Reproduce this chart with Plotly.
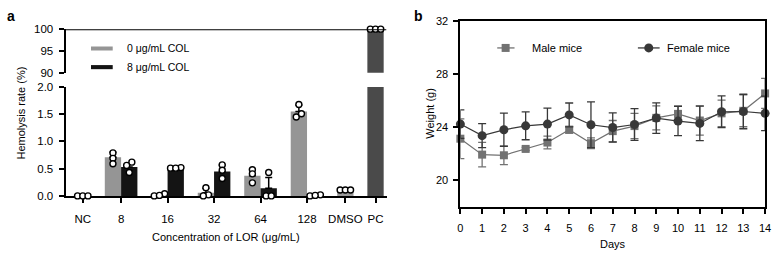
import plotly.graph_objects as go

W, H = 780, 255
FONT = "Liberation Sans, Arial, sans-serif"

# ---------------- Panel a data ----------------
dose_labels = ["8", "16", "32", "64", "128"]
col0_mean = [0.71, 0.02, 0.06, 0.37, 1.55]
col0_sd = [0.09, 0.02, 0.08, 0.12, 0.12]
col0_pts = [[0.79, 0.69, 0.59], [0.0, 0.04, 0.01], [0.02, 0.15, 0.0],
            [0.48, 0.405, 0.24], [1.68, 1.45, 1.51]]
col8_mean = [0.53, 0.51, 0.45, 0.14, 0.01]
col8_sd = [0.08, 0.01, 0.12, 0.20, 0.01]
col8_pts = [[0.62, 0.56, 0.43], [0.51, 0.52, 0.51], [0.57, 0.47, 0.32],
            [0.43, 0.0, 0.0], [0.0, 0.02, 0.01]]
ctrl_labels = ["NC", "DMSO", "PC"]
ctrl_mean = [0.0, 0.105, 100.0]
ctrl_pts = [[0.0, 0.0, 0.0], [0.11, 0.11, 0.11], [100.0, 100.0, 100.0]]
legend_a = ["0 μg/mL COL", "8 μg/mL COL"]

# ---------------- Panel b data ----------------
days = list(range(15))
male_mean = [23.13, 21.93, 21.88, 22.36, 22.84, 23.8, 22.79, 23.7, 24.08,
             24.7, 25.0, 24.5, 25.04, 25.23, 26.54]
male_sd = [1.5, 0.93, 0.7, 0.12, 0.48, 0.25, 0.4, 0.8, 0.95, 0.9, 0.6,
           1.1, 1.0, 1.2, 1.13]
female_mean = [24.23, 23.36, 23.8, 24.1, 24.23, 24.92, 24.18, 23.97, 24.2,
               24.68, 24.46, 24.28, 25.16, 25.18, 25.04]
female_sd = [1.07, 0.9, 1.25, 1.05, 1.2, 0.9, 1.72, 1.1, 1.2, 1.15, 1.1,
             1.3, 1.2, 1.3, 1.3]

# ---------------- colours ----------------
C_GRAY = "#959595"
C_BLACK = "#141414"
C_PC = "#4a4a4a"
C_DMSO = "#9a9a9a"
C_MALE = "#727272"
C_FEMALE = "#383838"


def fx(p):
    return p / W


def fy(p):
    return 1 - p / H


# category centres in bar-width units
order = ["NC"] + dose_labels + ["DMSO", "PC"]
nbars = [1, 2, 2, 2, 2, 2, 1, 1]
gap = 0.85
centers = []
left = 0.0
for n in nbars:
    centers.append(left + n / 2)
    left += n + gap
c0 = centers[0]
centers = [c - c0 for c in centers]
cmap = dict(zip(order, centers))

# pixel geometry for panel a
AX_L, AX_R = 63.3, 388.0
Y0_PX, Y2_PX = 199.3, 85.0
Y90_PX, Y100_PX = 70.0, 24.3
ppu_low = (Y0_PX - Y2_PX) / 2.0
ppu_up = (Y90_PX - Y100_PX) / 10.0


def jitter(vals, ppu, thr=4.2, step=0.32):
    idx = sorted(range(len(vals)), key=lambda i: vals[i])
    clusters = []
    for i in idx:
        if clusters and abs(vals[i] - vals[clusters[-1][-1]]) * ppu < thr:
            clusters[-1].append(i)
        else:
            clusters.append([i])
    offs = [0.0] * len(vals)
    for cl in clusters:
        n = len(cl)
        for k, i in enumerate(cl):
            offs[i] = (k - (n - 1) / 2) * step
    return offs


fig = go.Figure()

err_style = dict(type="data", symmetric=False, color="black", thickness=1.5, width=3.5)

x0 = [cmap[d] - 0.5 for d in dose_labels]
x8 = [cmap[d] + 0.5 for d in dose_labels]
fig.add_trace(go.Bar(x=x0, y=col0_mean, width=1.0, marker=dict(color=C_GRAY, line=dict(width=0)),
                     error_y=dict(array=col0_sd, arrayminus=[0] * 5, **err_style),
                     xaxis="x", yaxis="y", showlegend=False))
fig.add_trace(go.Bar(x=x8, y=col8_mean, width=1.0, marker=dict(color=C_BLACK, line=dict(width=0)),
                     error_y=dict(array=col8_sd, arrayminus=[0] * 5, **err_style),
                     xaxis="x", yaxis="y", showlegend=False))
ctrl_x = [cmap[c] for c in ctrl_labels]
ctrl_cols = ["rgba(0,0,0,0)", C_DMSO, C_PC]
for ya in ["y", "y2"]:
    fig.add_trace(go.Bar(x=ctrl_x, y=ctrl_mean, width=1.0,
                         marker=dict(color=ctrl_cols, line=dict(width=0)),
                         xaxis="x", yaxis=ya, showlegend=False))

px_low, py_low, px_up, py_up = [], [], [], []
for d, pts in zip(dose_labels, col0_pts):
    for o, v in zip(jitter(pts, ppu_low), pts):
        px_low.append(cmap[d] - 0.5 + o)
        py_low.append(v)
for d, pts in zip(dose_labels, col8_pts):
    for o, v in zip(jitter(pts, ppu_low), pts):
        px_low.append(cmap[d] + 0.5 + o)
        py_low.append(v)
for c, pts in zip(ctrl_labels, ctrl_pts):
    if max(pts) > 2:
        for o, v in zip(jitter(pts, ppu_up), pts):
            px_up.append(cmap[c] + o)
            py_up.append(v)
    else:
        for o, v in zip(jitter(pts, ppu_low), pts):
            px_low.append(cmap[c] + o)
            py_low.append(v)

pt_marker = dict(symbol="circle", size=6, color="white", line=dict(color="black", width=1.4))
fig.add_trace(go.Scatter(x=px_low, y=py_low, mode="markers", marker=pt_marker,
                         cliponaxis=False, xaxis="x", yaxis="y", showlegend=False))
fig.add_trace(go.Scatter(x=px_up, y=py_up, mode="markers", marker=pt_marker,
                         cliponaxis=False, xaxis="x", yaxis="y2", showlegend=False))

# ---------------- Panel b traces ----------------
fig.add_trace(go.Scatter(x=days, y=male_mean, mode="lines+markers", name="Male mice",
                         line=dict(color=C_MALE, width=1.2),
                         marker=dict(symbol="square", size=8, color=C_MALE),
                         error_y=dict(type="data", array=male_sd, color=C_MALE, thickness=1.3, width=4),
                         cliponaxis=False, xaxis="x3", yaxis="y3", showlegend=False))
fig.add_trace(go.Scatter(x=days, y=female_mean, mode="lines+markers", name="Female mice",
                         line=dict(color=C_FEMALE, width=1.2),
                         marker=dict(symbol="circle", size=9, color=C_FEMALE),
                         error_y=dict(type="data", array=female_sd, color=C_FEMALE, thickness=1.3, width=4),
                         cliponaxis=False, xaxis="x3", yaxis="y3", showlegend=False))

fig.add_trace(go.Scatter(x=[508.5], y=[44], mode="markers",
                         marker=dict(symbol="square", size=8, color=C_MALE),
                         xaxis="x4", yaxis="y4", showlegend=False, hoverinfo="skip"))
fig.add_trace(go.Scatter(x=[653.3], y=[44], mode="markers",
                         marker=dict(symbol="circle", size=9, color=C_FEMALE),
                         xaxis="x4", yaxis="y4", showlegend=False, hoverinfo="skip"))

# ---------------- axes ----------------
tickfont = dict(family=FONT, size=11.5, color="black")
axis_common = dict(showline=True, linecolor="black", linewidth=2, ticks="outside",
                   ticklen=5, tickwidth=2, tickcolor="black", showgrid=False,
                   zeroline=False, tickfont=tickfont, ticklabelstandoff=3)
tf_b = dict(family=FONT, size=11, color="black")

xr = [(AX_L - 80.7) / 16.5, (AX_R - 80.7) / 16.5]
fig.update_layout(
    xaxis=dict(domain=[fx(AX_L), fx(AX_R)], range=xr, anchor="y",
               tickmode="array", tickvals=[cmap[c] for c in order], ticktext=order,
               layer="below traces", **{**axis_common, "ticklabelstandoff": 6}),
    yaxis=dict(domain=[fy(Y0_PX), fy(Y2_PX)], range=[0, 2], anchor="x",
               tickmode="array", tickvals=[0, 0.5, 1.0, 1.5, 2.0], tickformat=".1f",
               **axis_common),
    yaxis2=dict(domain=[fy(Y90_PX), fy(Y100_PX)], range=[90, 100], anchor="x",
                tickmode="array", tickvals=[90, 95, 100], **axis_common),
    xaxis3=dict(domain=[fx(462.7), fx(771.0)], range=[0, 14], anchor="y3",
                tickmode="array", tickvals=days, mirror=True,
                **{**axis_common, "tickfont": tf_b, "ticklabelstandoff": 5}),
    yaxis3=dict(domain=[fy(210.7), fy(15.7)], range=[18, 32], anchor="x3",
                tickmode="array", tickvals=[20, 24, 28, 32], mirror=True,
                **{**axis_common, "tickfont": tf_b}),
    xaxis4=dict(domain=[0, 1], range=[0, W], visible=False, anchor="y4", fixedrange=True),
    yaxis4=dict(domain=[0, 1], range=[H, 0], visible=False, anchor="x4", fixedrange=True),
)

shapes = []
shapes.append(dict(type="line", xref="x", yref="y2", x0=xr[0], x1=xr[1], y0=100, y1=100,
                   line=dict(color="black", width=2)))
shapes.append(dict(type="rect", xref="paper", yref="paper", x0=fx(89), x1=fx(111),
                   y0=fy(46.7), y1=fy(42.5), fillcolor=C_GRAY, line=dict(width=0)))
shapes.append(dict(type="rect", xref="paper", yref="paper", x0=fx(89), x1=fx(111),
                   y0=fy(66.3), y1=fy(62.0), fillcolor=C_BLACK, line=dict(width=0)))
shapes.append(dict(type="line", xref="paper", yref="paper", x0=fx(500), x1=fx(517.5),
                   y0=fy(44), y1=fy(44), line=dict(color=C_MALE, width=1.3)))
shapes.append(dict(type="line", xref="paper", yref="paper", x0=fx(642.3), x1=fx(664.3),
                   y0=fy(44), y1=fy(44), line=dict(color=C_FEMALE, width=1.3)))

ann = []


def text(x, y, s, size=11, xanchor="left", angle=0, bold=False):
    ann.append(dict(x=fx(x), y=fy(y), xref="paper", yref="paper", text=f"<b>{s}</b>" if bold else s,
                    showarrow=False, xanchor=xanchor, yanchor="middle", textangle=angle,
                    font=dict(family=FONT, size=size, color="black")))


text(123, 44.5, legend_a[0], size=10.5)
text(123, 64.5, legend_a[1], size=10.5)
text(533, 44, "Male mice", size=11)
text(670, 44, "Female mice", size=11)
text(2, 10, "a", size=14, bold=True)
text(414, 10, "b", size=14, bold=True)
text(225.7, 242, "Concentration of LOR (μg/mL)", size=11, xanchor="center")
text(18, 112, "Hemolysis rate (%)", size=11, xanchor="center", angle=-90)
text(616.9, 250, "Days", size=11, xanchor="center")
text(432, 113, "Weight (g)", size=11, xanchor="center", angle=-90)

fig.update_layout(width=W, height=H, autosize=False, margin=dict(l=0, r=0, t=0, b=0),
                  paper_bgcolor="white", plot_bgcolor="rgba(0,0,0,0)",
                  barmode="overlay", shapes=shapes, annotations=ann, showlegend=False,
                  font=dict(family=FONT, color="black"))

fig.write_html("out.html")
